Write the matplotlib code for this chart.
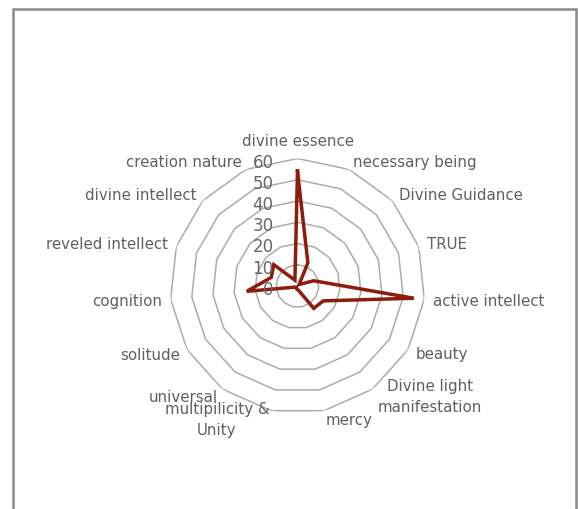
import numpy as np
import matplotlib
matplotlib.use("Agg")
import matplotlib.pyplot as plt
from matplotlib.patches import Rectangle
from matplotlib.transforms import offset_copy

categories = ["divine essence", "necessary being", "Divine Guidance", "TRUE",
              "active intellect", "beauty", "Divine light\nmanifestation", "mercy",
              "multipilicity &\nUnity", "universal", "solitude", "cognition",
              "reveled intellect", "divine intellect", "creation nature"]
values = [54, 12, 1, 8, 55, 14, 13, 2, 1.5, 1, 1, 24, 13, 15, 3]
ring_ticks = [10, 20, 30, 40, 50, 60]
tick_labels = ["0", "10", "20", "30", "40", "50", "60"]
tick_values = [0, 10, 20, 30, 40, 50, 60]

W, H = 578, 510
fig = plt.figure(figsize=(W / 100, H / 100), dpi=100)
fig.patch.set_facecolor("white")

# outer chart border
fig.patches.append(Rectangle((13 / W, -0.05), (576 - 13) / W, (H - 10) / H + 0.05,
                             transform=fig.transFigure, fill=False,
                             edgecolor="#8a8a8a", lw=1.8, zorder=0))

cx, cy, R = 297.5, 287.0, 127.5
ax = fig.add_axes([(cx - R) / W, (H - cy - R) / H, 2 * R / W, 2 * R / H],
                  projection="polar")
ax.set_theta_zero_location("N")
ax.set_theta_direction(-1)
ax.set_ylim(0, 60)
ax.set_frame_on(False)
ax.grid(False)
ax.set_xticks([])
ax.set_yticks([])
ax.patch.set_alpha(0)

n = len(categories)
angles = np.arange(n) * 2 * np.pi / n
closed = np.append(angles, angles[0])

for r in ring_ticks:
    ax.plot(closed, [r] * (n + 1), color="#ababab", lw=1.1, zorder=1)

vals = np.append(values, values[0])
ax.plot(closed, vals, color="#8c1c0b", lw=2.5, zorder=3, solid_joinstyle="miter")

txt_color = "#5f5f5f"
lab_r = 64
for a, lab in zip(angles, categories):
    deg = np.degrees(a)
    if deg < 1:
        ha, va, rr = "center", "bottom", 65
    elif deg < 180:
        ha, va, rr = "left", "center", lab_r
    else:
        ha, va, rr = "right", "center", lab_r
    ax.text(a, rr, lab, ha=ha, va=va, multialignment="center",
            fontsize=10.8, color=txt_color, clip_on=False,
            family="DejaVu Sans", linespacing=1.45)

off = offset_copy(ax.transData, fig=fig, x=-24, y=-3, units="dots")
for v, t in zip(tick_values, tick_labels):
    ax.text(0, v, t, transform=off, ha="right", va="center",
            fontsize=12, color="#666666", clip_on=False)

fig.savefig("out.png", dpi=100)
